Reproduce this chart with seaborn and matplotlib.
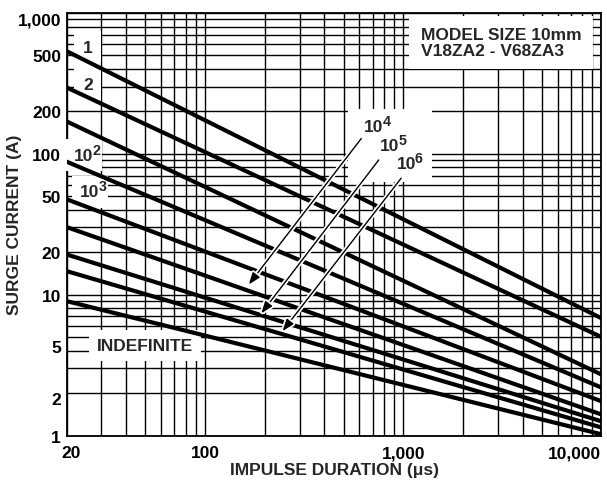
import matplotlib
matplotlib.use("Agg")
import pandas as pd
import matplotlib.pyplot as plt
import matplotlib.ticker as ticker
import matplotlib.transforms as mtransforms
import matplotlib.patheffects as pe
import seaborn as sns

# DATA
curve_names = ["1", "2", "10", "10^2", "10^3", "10^4", "10^5", "10^6", "INDEFINITE"]
pulse_us = [20, 10000]
amps_at_20us = [536, 296, 170, 88, 47.6, 30.2, 19.3, 14.7, 9.0]
amps_at_10000us = [6.8, 5.0, 2.71, 2.19, 1.75, 1.41, 1.26, 1.14, 1.02]

x_ticks = [20, 100, 1000, 10000]
x_ticklabels = ["20", "100", "1,000", "10,000"]
y_ticks = [1, 2, 5, 10, 20, 50, 100, 200, 500, 1000]
y_ticklabels = ["1", "2", "5", "10", "20", "50", "100", "200", "500", "1,000"]

rows = []
for name, a0, a1 in zip(curve_names, amps_at_20us, amps_at_10000us):
    rows.append({"curve": name, "duration": pulse_us[0], "current": a0})
    rows.append({"curve": name, "duration": pulse_us[1], "current": a1})
df = pd.DataFrame(rows)

# STYLE
sns.set_style("white")
plt.rcParams["font.family"] = ["Liberation Sans", "DejaVu Sans"]
plt.rcParams["font.weight"] = "bold"

fs = 12.5

fig = plt.figure(figsize=(6.07, 4.81), dpi=100)
ax = fig.add_axes([0.1097, 0.0925, 0.8812, 0.8784])

sns.lineplot(data=df, x="duration", y="current", hue="curve",
             palette=["black"] * len(curve_names), linewidth=3.0,
             legend=False, ax=ax, zorder=4)

ax.set_xscale("log")
ax.set_yscale("log")
ax.set_xlim(20, 10000)
ax.set_ylim(1, 1000)

ax.set_xticks(x_ticks, labels=x_ticklabels)
ax.set_yticks(y_ticks, labels=y_ticklabels)
ax.xaxis.set_minor_locator(ticker.LogLocator(base=10, subs=range(2, 10), numticks=20))
ax.yaxis.set_minor_locator(ticker.LogLocator(base=10, subs=range(2, 10), numticks=20))
ax.xaxis.set_minor_formatter(ticker.NullFormatter())
ax.yaxis.set_minor_formatter(ticker.NullFormatter())
ax.tick_params(which="both", length=0, labelsize=fs, colors="black")
ax.tick_params(axis="x", pad=7)
ax.tick_params(axis="y", pad=4)

ax.set_axisbelow(True)
ax.grid(True, which="both", color="black", linewidth=1.0)
for s in ax.spines.values():
    s.set_color("black")
    s.set_linewidth(1.3)

# nudge a few tick labels the way the datasheet has them
def nudge(label, dx, dy):
    label.set_transform(label.get_transform() +
                        mtransforms.ScaledTranslation(dx / 100, dy / 100, fig.dpi_scale_trans))

for lab in ax.get_xticklabels():
    if lab.get_text() == "20":
        nudge(lab, 4.5, 0)
    if lab.get_text() == "10,000":
        lab.set_ha("right")
for lab in ax.get_yticklabels():
    if lab.get_text() == "1,000":
        lab.set_va("top")
    if lab.get_text() == "5":
        nudge(lab, 0, -9)
    if lab.get_text() == "2":
        nudge(lab, 0, -5)

ax.set_xlabel("IMPULSE DURATION (\u03bcs)", fontsize=fs, fontweight="bold")
ax.set_ylabel("SURGE CURRENT (A)", fontsize=fs, fontweight="bold")
ax.xaxis.set_label_coords(0.5, -0.062)
ax.yaxis.set_label_coords(-0.084, 0.5)

box = dict(boxstyle="square,pad=0.5", facecolor="white", edgecolor="none")


def power_label(x, y, exp, with_box=True):
    # "10" ending at (x, y), exponent raised just to the right of it
    if with_box:
        ax.text(x, y, "10", fontsize=fs, ha="right", va="center", bbox=box, zorder=3)
    else:
        ax.text(x, y, "10", fontsize=fs, ha="right", va="center", zorder=5)
    ax.annotate(exp, xy=(x, y), xytext=(-0.8, 4.0), textcoords="offset points",
                fontsize=fs * 0.82, ha="left", va="center", zorder=5)


# curve labels with white backgrounds
ax.text(25.6, 572, "1", fontsize=fs, ha="center", va="center", bbox=box, zorder=3)
ax.text(25.6, 312, "2", fontsize=fs, ha="center", va="center", bbox=box, zorder=3)
power_label(27.3, 98, "2")
power_label(29.4, 53.6, "3")
ax.text(49.7, 4.36, "INDEFINITE", fontsize=fs, ha="center", va="center",
        bbox=dict(boxstyle="square,pad=0.45", facecolor="white", edgecolor="none"), zorder=3)

ax.text(0.662, 0.930, "MODEL SIZE 10mm\nV18ZA2 - V68ZA3", transform=ax.transAxes,
        fontsize=fs, ha="left", va="center", linespacing=1.1,
        bbox=dict(boxstyle="square,pad=0.65", facecolor="white", edgecolor="none"), zorder=3)

# white field behind the 10^4..10^6 labels
ax.add_patch(plt.Rectangle((0.527, 0.600), 0.157, 0.173, transform=ax.transAxes,
                           facecolor="white", edgecolor="none", zorder=2.5))
power_label(794, 157, "4", with_box=False)
power_label(957, 114, "5", with_box=False)
power_label(1160, 85.8, "6", with_box=False)

arrows = [((614, 128.5), (166, 11.8)),
          ((752, 90.5), (192, 7.36)),
          ((975, 67.1), (246, 5.51))]
for start, tip in arrows:
    ax.annotate("", xy=tip, xytext=start, zorder=6,
                arrowprops=dict(arrowstyle="-|>,head_length=0.6,head_width=0.22",
                                color="black", lw=1.0, mutation_scale=12,
                                shrinkA=0, shrinkB=0,
                                path_effects=[pe.withStroke(linewidth=3.5, foreground="white")]))

fig.savefig("out.png", dpi=100)
